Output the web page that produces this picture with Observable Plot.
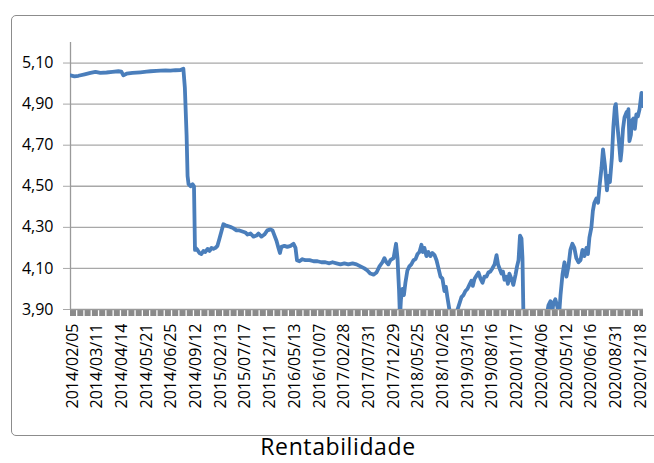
<!DOCTYPE html>
<html>
<head>
<meta charset="utf-8">
<script src="https://cdn.jsdelivr.net/npm/d3@7"></script>
<script src="https://cdn.jsdelivr.net/npm/@observablehq/plot@0.6"></script>
<style>
html, body { margin: 0; padding: 0; background: #fff; overflow: hidden; }
#wrap { position: relative; width: 654px; height: 463px; font-family: "Open Sans", sans-serif; }
#chart { position: absolute; left: 0; top: 0; }
#border { position: absolute; left: 11px; top: 15px; width: 670px; height: 421px; border: 1.5px solid #8c8c8c; border-radius: 5px; box-sizing: border-box; pointer-events: none; }
#title { position: absolute; left: 11px; top: 431px; width: 654px; text-align: center; font-size: 23px; line-height: 31px; letter-spacing: 0.6px; color: #000; }
</style>
</head>
<body>
<div id="wrap">
  <div id="chart"></div>
  <div id="border"></div>
  <div id="title">Rentabilidade</div>
</div>
<script>
// Category labels shown on the x axis (evenly spaced categories)
const dateLabels = [
  "2014/02/05","2014/03/11","2014/04/14","2014/05/21","2014/06/25","2014/09/12",
  "2015/02/13","2015/07/17","2015/12/11","2016/05/13","2016/10/07","2017/02/28",
  "2017/07/31","2017/12/29","2018/05/25","2018/10/26","2019/03/15","2019/08/16",
  "2020/01/17","2020/04/06","2020/05/12","2020/06/16","2020/08/31","2020/12/18"
];

// Y axis ticks
const yTicks = [3.9, 4.1, 4.3, 4.5, 4.7, 4.9, 5.1];
const yDomain = [3.9, 5.2];

// Position of each reading along the category axis (in label units) and its value
const position = [
  -0.08,0.08,0.24,0.49,0.73,0.93,1.13,1.38,1.62,1.86,
  1.98,2.06,2.19,2.43,2.75,3.00,3.16,3.40,3.56,3.77,
  3.97,4.17,4.37,4.49,4.55,4.62,4.66,4.70,4.78,4.86,
  4.92,4.96,4.98,5.06,5.14,5.22,5.30,5.38,5.47,5.55,
  5.63,5.71,5.79,5.87,5.95,6.03,6.11,6.19,6.32,6.44,
  6.52,6.64,6.76,6.88,7.00,7.09,7.21,7.33,7.45,7.53,
  7.65,7.77,7.89,8.02,8.10,8.18,8.26,8.34,8.40,8.46,
  8.58,8.70,8.83,8.95,9.03,9.09,9.19,9.31,9.43,9.60,
  9.76,9.92,10.08,10.24,10.40,10.53,10.69,10.85,11.01,11.17,
  11.34,11.50,11.66,11.82,11.94,12.06,12.19,12.31,12.43,12.55,
  12.63,12.71,12.79,12.87,13.00,13.10,13.16,13.22,13.26,13.30,
  13.36,13.42,13.48,13.56,13.64,13.72,13.81,13.89,13.97,14.05,
  14.13,14.19,14.25,14.33,14.41,14.49,14.57,14.66,14.74,14.82,
  14.90,14.98,15.06,15.12,15.18,15.26,15.34,15.51,15.59,15.67,
  15.75,15.83,15.91,15.99,16.07,16.15,16.21,16.28,16.36,16.44,
  16.52,16.60,16.68,16.76,16.84,16.92,17.00,17.09,17.17,17.23,
  17.29,17.37,17.43,17.49,17.57,17.63,17.69,17.77,17.85,17.94,
  18.00,18.06,18.12,18.18,18.22,18.26,19.19,19.27,19.35,19.41,
  19.47,19.55,19.64,19.70,19.76,19.84,19.92,20.00,20.08,20.16,
  20.24,20.32,20.40,20.49,20.57,20.65,20.73,20.81,20.87,20.93,
  21.01,21.07,21.13,21.21,21.28,21.34,21.42,21.48,21.56,21.64,
  21.70,21.76,21.84,21.90,21.96,22.00,22.06,22.13,22.19,22.23,
  22.29,22.35,22.43,22.47,22.51,22.55,22.61,22.65,22.71,22.77,
  22.83,22.89,22.96,23.04,23.08,23.12
];
const rate = [
  5.040,5.035,5.038,5.045,5.052,5.057,5.052,5.054,5.057,5.060,
  5.058,5.040,5.048,5.052,5.055,5.058,5.060,5.062,5.063,5.064,
  5.063,5.065,5.066,5.072,4.98,4.75,4.55,4.51,4.50,4.51,
  4.50,4.19,4.20,4.19,4.175,4.17,4.185,4.18,4.195,4.185,
  4.20,4.195,4.20,4.21,4.245,4.28,4.315,4.31,4.305,4.30,
  4.295,4.285,4.285,4.28,4.275,4.265,4.27,4.255,4.26,4.27,
  4.255,4.265,4.285,4.29,4.285,4.26,4.235,4.20,4.175,4.205,
  4.21,4.205,4.21,4.22,4.20,4.14,4.135,4.145,4.14,4.14,
  4.135,4.135,4.13,4.13,4.125,4.13,4.125,4.12,4.125,4.12,
  4.125,4.12,4.11,4.10,4.09,4.075,4.07,4.08,4.11,4.13,
  4.15,4.13,4.12,4.14,4.15,4.22,4.15,4.00,3.86,3.95,
  4.00,3.97,4.03,4.09,4.11,4.12,4.14,4.145,4.17,4.18,
  4.215,4.18,4.20,4.16,4.18,4.16,4.175,4.165,4.14,4.10,
  4.06,4.05,3.99,4.01,3.96,3.90,3.86,3.86,3.90,3.93,
  3.96,3.97,3.99,4.00,4.02,4.04,4.015,4.05,4.065,4.08,
  4.05,4.03,4.06,4.06,4.08,4.085,4.10,4.12,4.165,4.12,
  4.10,4.075,4.085,4.045,4.06,4.025,4.075,4.05,4.02,4.07,
  4.11,4.14,4.26,4.245,4.15,3.86,3.86,3.92,3.94,3.87,
  3.93,3.95,3.91,3.87,3.97,4.07,4.13,4.06,4.11,4.19,
  4.22,4.20,4.15,4.13,4.14,4.19,4.16,4.20,4.17,4.25,
  4.30,4.38,4.42,4.44,4.42,4.50,4.59,4.68,4.60,4.48,
  4.55,4.52,4.64,4.79,4.885,4.90,4.80,4.71,4.625,4.67,
  4.78,4.835,4.86,4.84,4.875,4.72,4.75,4.82,4.83,4.78,
  4.85,4.84,4.875,4.955,4.89,4.90
];

const xDomain = [position[0], position[position.length - 1]];
const fmt = d => d.toFixed(2).replace(".", ",");

const chart = Plot.plot({
  width: 654,
  height: 440,
  marginTop: 42,
  marginBottom: 131,
  marginLeft: 70,
  marginRight: 11,
  style: { fontFamily: "'Open Sans', sans-serif", fontSize: "16px", color: "#000", background: "transparent" },
  x: { type: "linear", domain: xDomain },
  y: { domain: yDomain },
  marks: [
    Plot.gridY(yTicks.slice(1), { stroke: "#a8a8a8", strokeOpacity: 1, strokeWidth: 1.3 }),
    Plot.ruleY([yDomain[0]], { stroke: "#8a8a8a", strokeWidth: 6, dy: 3.5, strokeDasharray: "6,1.3" }),
    Plot.ruleY([yDomain[0]], { stroke: "#9a9a9a", strokeWidth: 1.3 }),
    Plot.ruleX([xDomain[0]], { y1: yDomain[0], y2: yDomain[1], stroke: "#9a9a9a", strokeWidth: 1.3 }),
    Plot.line(rate, {
      x: (d, i) => position[i],
      y: d => d,
      stroke: "#4a7ebb",
      strokeWidth: 3.8,
      strokeLinejoin: "round",
      strokeLinecap: "round",
      clip: true
    }),
    Plot.axisY(yTicks, { tickSize: 7, tickPadding: 10, tickFormat: fmt, stroke: "#a8a8a8", fill: "#000", fontSize: 16 }),
    Plot.axisX(d3.range(dateLabels.length), {
      tickFormat: i => dateLabels[i],
      tickRotate: -90,
      tickSize: 0,
      tickPadding: 14,
      fill: "#000",
      fontSize: 16
    })
  ]
});
document.getElementById("chart").appendChild(chart);
</script>
</body>
</html>
